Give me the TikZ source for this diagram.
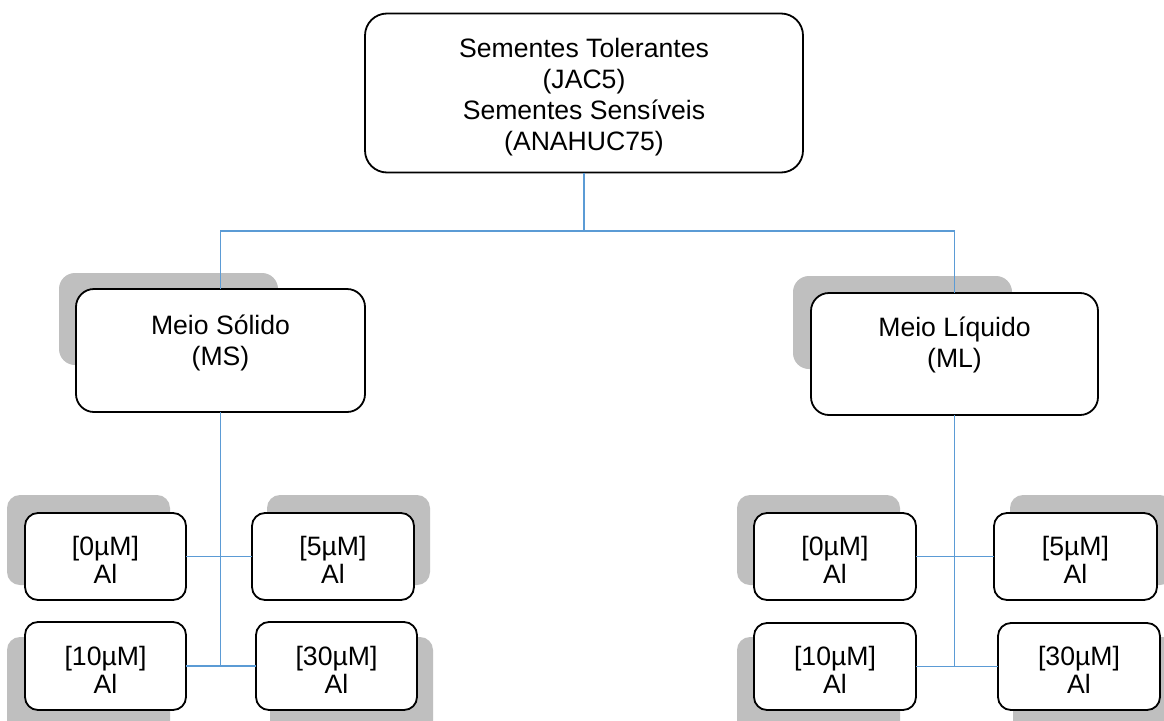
\documentclass[tikz,border=0pt]{standalone}
\usepackage{fontspec}
\setmainfont{Liberation Sans}
\definecolor{conn}{HTML}{5B9BD5}
\definecolor{shade}{HTML}{BFBFBF}
\tikzset{
  box/.style={draw=black, line width=1.8pt, fill=white, rounded corners=#1, inner sep=0pt, outer sep=0pt},
  box/.default=13pt,
  shadowbox/.style={fill=shade, rounded corners=#1},
  shadowbox/.default=13pt,
  link/.style={draw=conn, line width=1.5pt},
  label/.style={align=center, inner sep=0pt, font=\fontsize{26.6}{#1}\selectfont},
  label/.default=31
}
\begin{document}
\begin{tikzpicture}[x=1pt,y=-1pt]
\useasboundingbox (0,0) rectangle (1164,720);
\clip (0,0) rectangle (1164,720);
\fill[white] (0,0) rectangle (1164,720);

% shadows
\path[shadowbox=16pt] (59,273) rectangle (278,365);
\path[shadowbox=16pt] (793,276) rectangle (1012,369);
\path[shadowbox] (7,495) rectangle (170,585);
\path[shadowbox] (267,495) rectangle (430,585);
\path[shadowbox] (7,637) rectangle (170,740);
\path[shadowbox] (270,637) rectangle (433,740);
\path[shadowbox] (737,495) rectangle (900,585);
\path[shadowbox] (1010,495) rectangle (1173,585);
\path[shadowbox] (737,637) rectangle (900,740);
\path[shadowbox] (1013,637) rectangle (1176,740);

% top
\node[box=22pt, minimum width=438pt, minimum height=159pt] (top) at (584,93) {};
\node[label] (topt) at (584,97.5) {Sementes Tolerantes\\(JAC5)\\Sementes Sensíveis\\(ANAHUC75)};

% medium boxes
\node[box=18pt, minimum width=289pt, minimum height=123pt] (ms) at (220.5,350.5) {};
\node[label] (mst) at (220.5,343) {Meio Sólido\\(MS)};
\node[box=18pt, minimum width=287pt, minimum height=122pt] (ml) at (954.5,354) {};
\node[label] (mlt) at (954.5,345) {Meio Líquido\\(ML)};

% children left
\node[box, minimum width=161pt, minimum height=87pt] (l0) at (105.5,556.5) {};
\node[label=28] (l0t) at (105.5,560) {[0µM]\\Al};
\node[box, minimum width=162pt, minimum height=87pt] (l5) at (333,556.5) {};
\node[label=28] (l5t) at (333,560) {[5µM]\\Al};
\node[box, minimum width=161pt, minimum height=88pt] (l10) at (105.5,666) {};
\node[label=28] (l10t) at (105.5,669.5) {[10µM]\\Al};
\node[box, minimum width=161pt, minimum height=88pt] (l30) at (336.5,666) {};
\node[label=28] (l30t) at (336.5,669.5) {[30µM]\\Al};
% children right
\node[box, minimum width=162pt, minimum height=87pt] (r0) at (835,556.5) {};
\node[label=28] (r0t) at (835,560) {[0µM]\\Al};
\node[box, minimum width=163pt, minimum height=87pt] (r5) at (1075.5,556.5) {};
\node[label=28] (r5t) at (1075.5,560) {[5µM]\\Al};
\node[box, minimum width=162pt, minimum height=87pt] (r10) at (835,666.5) {};
\node[label=28] (r10t) at (835,670) {[10µM]\\Al};
\node[box, minimum width=162pt, minimum height=87pt] (r30) at (1079,666.5) {};
\node[label=28] (r30t) at (1079,670) {[30µM]\\Al};

% connectors
\coordinate (hub) at (584,231);
\draw[link] (top.south) -- (hub) -| (ms.north);
\draw[link] (hub) -| (ml.north);

\coordinate (lend) at (ms.south |- l10.east);
\coordinate (rend) at (ml.south |- r10.east);
\draw[link] (ms.south) -- (lend);
\draw[link] (ml.south) -- (rend);
\draw[link] (l0.east) -- (l5.west);
\draw[link] (l10.east) -- (l30.west);
\draw[link] (r0.east) -- (r5.west);
\draw[link] (r10.east) -- (r30.west);
\end{tikzpicture}
\end{document}
